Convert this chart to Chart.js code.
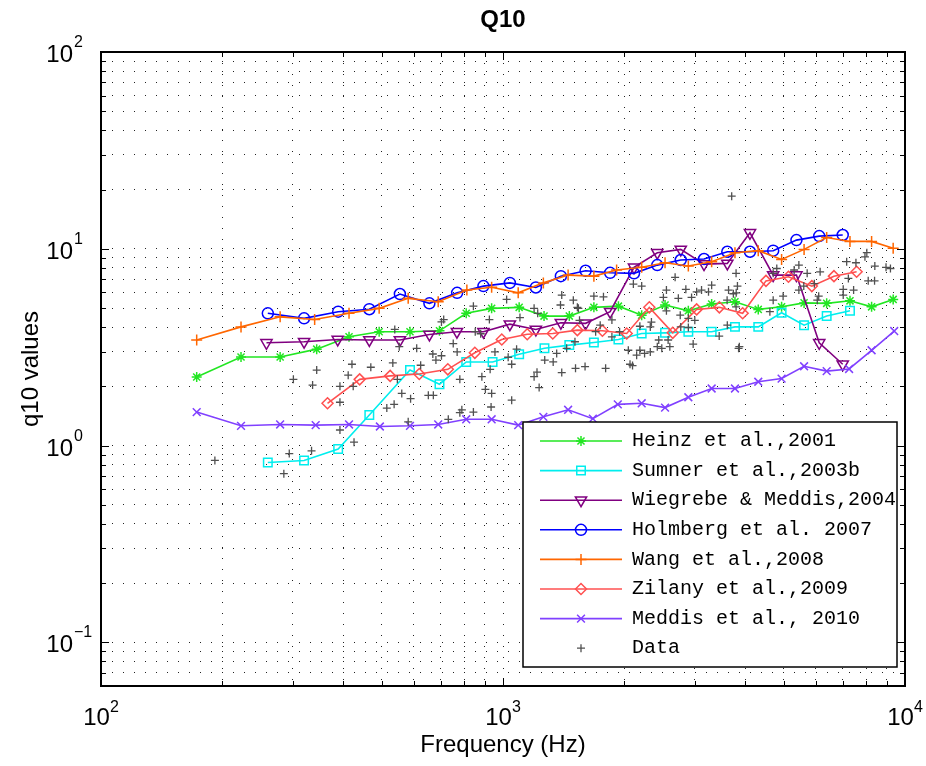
<!DOCTYPE html>
<html>
<head>
<meta charset="utf-8">
<title>Q10</title>
<script src="https://cdn.jsdelivr.net/npm/chart.js@4.4.1/dist/chart.umd.min.js"></script>
<style>
  html, body { margin: 0; padding: 0; background: #fff; }
  canvas { display: block; }
</style>
</head>
<body>
<canvas id="chart" width="926" height="766"></canvas>
<script>
// values (frequency in Hz, q10)
const heinzFreq = [173, 223, 279, 344, 414, 492, 587, 695, 810, 937, 1097, 1265, 1462, 1683, 1937, 2213, 2530, 2891, 3304, 3776, 4315, 4932, 5610, 6385, 7297, 8259, 9345];
const heinzQ10 = [2.23, 2.82, 2.82, 3.09, 3.57, 3.79, 3.79, 3.83, 4.70, 4.98, 5.04, 4.55, 4.55, 5.04, 5.11, 4.60, 5.18, 4.84, 5.24, 5.38, 4.92, 5.07, 5.31, 5.28, 5.44, 5.07, 5.53];

const sumnerFreq = [260, 320, 389, 465, 587, 695, 810, 942, 1097, 1268, 1462, 1683, 1937, 2213, 2530, 2891, 3304, 3776, 4315, 4932, 5610, 6385, 7297];
const sumnerQ10 = [0.82, 0.84, 0.96, 1.43, 2.42, 2.05, 2.66, 2.66, 2.91, 3.12, 3.24, 3.34, 3.46, 3.71, 3.74, 3.79, 3.79, 4.01, 4.01, 4.73, 4.09, 4.55, 4.84];

const wiegrebeFreq = [258, 320, 388, 465, 554, 656, 768, 894, 1040, 1207, 1393, 1605, 1847, 2118, 2420, 2768, 3163, 3614, 4115, 4700, 5370, 6118, 7000];
const wiegrebeQ10 = [3.33, 3.37, 3.46, 3.44, 3.44, 3.67, 3.79, 3.79, 4.14, 3.89, 4.21, 4.18, 4.79, 8.05, 9.55, 9.93, 8.36, 8.43, 12.05, 7.35, 7.35, 3.33, 2.59];

const holmbergFreq = [260, 320, 389, 465, 554, 656, 769, 894, 1040, 1207, 1393, 1605, 1847, 2118, 2420, 2768, 3163, 3614, 4115, 4700, 5370, 6118, 7000];
const holmbergQ10 = [4.70, 4.43, 4.79, 4.93, 5.89, 5.28, 5.97, 6.46, 6.71, 6.36, 7.26, 7.73, 7.55, 7.50, 8.26, 8.77, 8.87, 9.66, 9.66, 9.78, 11.07, 11.6, 11.75];

const wangFreq = [173, 223, 279, 340, 414, 492, 581, 690, 813, 937, 1091, 1260, 1452, 1683, 1917, 2213, 2530, 2891, 3304, 3776, 4315, 4932, 5610, 6385, 7297, 8259, 9345];
const wangQ10 = [3.44, 4.01, 4.51, 4.37, 4.70, 4.98, 5.60, 5.38, 6.17, 6.37, 5.97, 6.71, 7.35, 7.26, 7.80, 8.05, 8.49, 8.17, 8.60, 9.55, 9.78, 8.83, 9.93, 11.4, 10.9, 10.9, 10.05];

const zilanyFreq = [366, 440, 524, 619, 729, 851, 993, 1149, 1330, 1531, 1767, 2031, 2312, 2644, 3032, 3453, 3946, 4510, 5130, 5865, 6657, 7580];
const zilanyQ10 = [1.64, 2.17, 2.26, 2.31, 2.44, 2.96, 3.46, 3.68, 3.71, 3.86, 3.83, 3.71, 5.04, 3.74, 4.92, 5.04, 4.70, 6.87, 7.21, 6.46, 7.26, 7.64];

const meddisFreq = [173, 223, 279, 342, 414, 494, 587, 690, 810, 937, 1091, 1260, 1452, 1673, 1930, 2213, 2530, 2891, 3304, 3776, 4315, 4932, 5610, 6385, 7260, 8259, 9400];
const meddisQ10 = [1.48, 1.26, 1.28, 1.27, 1.28, 1.25, 1.26, 1.28, 1.36, 1.36, 1.27, 1.40, 1.52, 1.37, 1.62, 1.64, 1.56, 1.76, 1.95, 1.95, 2.11, 2.19, 2.53, 2.39, 2.45, 3.05, 3.82];

const dataFreq = [192, 285, 294, 334, 393, 426, 393, 514, 536, 581, 731, 781, 844, 934, 301, 336, 344, 393, 412, 421,
  424, 469, 532, 546, 560, 589, 624, 652, 671, 669, 681, 610, 552, 538, 703, 712, 752, 769, 781, 3706,
  2680, 2110, 2213, 2550, 2850, 3032, 3118, 3245, 3304, 2506, 2730, 2945, 3803, 3855, 3614, 2972, 2575, 2440, 2483, 2420,
  2325, 2250, 2070, 2100, 2325, 2340, 2190, 2760, 2550, 2768, 2891, 2891, 1866, 1778, 1683, 1496, 1400, 1540, 1550, 1745,
  1700, 1866, 2050, 2150, 1510, 1440, 1360, 1515, 1600, 1800, 1400, 1333, 1215, 1195, 1230, 1270, 1081, 1051, 1030, 955,
  929, 886, 703, 844, 925, 1021, 1102, 1195, 1220, 1390, 1531, 853, 880, 904, 937, 1051, 790, 1950, 2190, 2600,
  8036, 7950, 7160, 7550, 8413, 8970, 9200, 8100, 8400, 7230, 7020, 7450, 7020, 6150, 5710, 5950, 6100, 6050, 5445, 5300,
  5600, 5445, 4798, 4700, 4975, 4700, 4612, 3800, 3830, 3640, 3610, 3741, 3872, 3000, 3450, 3800];
const dataQ10 = [0.84, 0.72, 0.91, 0.94, 1.20, 1.04, 1.66, 1.55, 1.62, 1.32, 1.36, 1.47, 1.48, 1.57, 2.17, 2.03, 2.42, 2.00, 2.28, 2.59,
  2.00, 2.50, 2.63, 2.17, 1.84, 1.73, 2.56, 1.80, 1.80, 2.92, 2.72, 3.12, 3.18, 3.89, 4.25, 4.37, 3.30, 2.99, 2.17, 18.5,
  7.16, 6.62, 6.46, 6.17, 6.22, 6.04, 6.17, 6.04, 6.53, 5.66, 5.60, 5.66, 5.97, 3.12, 4.09, 3.28, 3.44, 3.44, 3.12, 3.18,
  2.99, 2.94, 2.59, 2.55, 4.01, 4.24, 4.04, 4.60, 4.84, 4.01, 4.43, 3.98, 4.35, 5.70, 5.74, 5.48, 5.82, 4.98, 4.33, 4.09,
  3.79, 3.57, 3.05, 2.88, 3.37, 3.12, 2.94, 2.47, 2.52, 2.47, 2.35, 2.66, 2.36, 2.24, 1.97, 2.72, 3.09, 2.59, 2.81, 2.99,
  2.44, 2.24, 2.86, 5.11, 4.37, 5.53, 4.47, 4.98, 4.70, 5.18, 5.04, 3.79, 3.70, 1.93, 1.84, 1.70, 1.52, 3.79, 3.05, 3.18,
  9.55, 9.10, 8.60, 8.49, 8.17, 8.05, 7.94, 6.87, 6.87, 7.07, 6.22, 6.17, 5.82, 7.64, 7.50, 6.65, 5.74, 5.48, 8.26, 7.80,
  6.46, 6.17, 7.94, 7.50, 5.74, 5.48, 4.79, 7.50, 6.46, 6.17, 5.48, 5.91, 3.18, 4.33, 3.60, 5.07];

const seriesNames = ['Heinz et al.,2001', 'Sumner et al.,2003b', 'Wiegrebe & Meddis,2004', 'Holmberg et al. 2007',
  'Wang et al.,2008', 'Zilany et al.,2009', 'Meddis et al., 2010'];
const seriesFreq = [heinzFreq, sumnerFreq, wiegrebeFreq, holmbergFreq, wangFreq, zilanyFreq, meddisFreq];
const seriesQ10 = [heinzQ10, sumnerQ10, wiegrebeQ10, holmbergQ10, wangQ10, zilanyQ10, meddisQ10];

// axis ticks
const xMajor = [100, 1000, 10000];
const xExp = ['2', '3', '4'];
const yMajor = [0.1, 1, 10, 100];
const yExp = ['\u22121', '0', '1', '2'];

const decadeTicks = (start, end) => {
  const out = [];
  for (let d = start; d < end; d *= 10) {
    for (let m = 1; m < 10; m++) out.push(+(m * d).toPrecision(3));
  }
  out.push(end);
  return out;
};
const xGridTicks = decadeTicks(100, 10000);
const yGridTicks = [0.06, 0.07, 0.08, 0.09].concat(decadeTicks(0.1, 100));

const looks = [
  {color: '#22e622', pointStyle: 'star', radius: 5},
  {color: '#00eeee', pointStyle: 'rect', radius: 6},
  {color: '#800080', pointStyle: 'triangle', radius: 6.5, rotation: 180},
  {color: '#0000ff', pointStyle: 'circle', radius: 5.5},
  {color: '#ff6600', pointStyle: 'cross', radius: 5.5},
  {color: '#ff5050', pointStyle: 'rectRot', radius: 5.5},
  {color: '#8040ff', pointStyle: 'crossRot', radius: 5.5}
];

const toPoints = (xs, ys) => xs.map((f, i) => ({x: f, y: ys[i]}));

const datasets = seriesNames.map((name, i) => ({
  label: name,
  data: toPoints(seriesFreq[i], seriesQ10[i]),
  borderColor: looks[i].color,
  borderWidth: 1.6,
  pointStyle: looks[i].pointStyle,
  pointRadius: looks[i].radius,
  pointRotation: looks[i].rotation || 0,
  pointBorderColor: looks[i].color,
  pointBackgroundColor: 'rgba(0,0,0,0)',
  pointBorderWidth: 1.5,
  showLine: true,
  tension: 0,
  order: 10 - i
}));

datasets.push({
  label: 'Data',
  data: toPoints(dataFreq, dataQ10),
  showLine: false,
  borderColor: '#505050',
  pointStyle: 'cross',
  pointRadius: 4,
  pointBorderColor: '#505050',
  pointBackgroundColor: 'rgba(0,0,0,0)',
  pointBorderWidth: 1.3,
  order: 1
});

const baseFont = '24px "Liberation Sans", Arial, sans-serif';
const supFont = '16px "Liberation Sans", Arial, sans-serif';

const matlabAxes = {
  id: 'matlabAxes',
  afterDraw(chart) {
    const {ctx, chartArea: a, scales} = chart;
    const xs = scales.x, ys = scales.y;
    ctx.save();

    // inner tick marks on all four sides
    ctx.strokeStyle = '#000';
    ctx.lineWidth = 1;
    ctx.beginPath();
    xGridTicks.forEach(v => {
      const p = Math.round(xs.getPixelForValue(v)) + 0.5;
      const len = xMajor.includes(v) ? 8 : 5;
      ctx.moveTo(p, a.bottom); ctx.lineTo(p, a.bottom - len);
      ctx.moveTo(p, a.top); ctx.lineTo(p, a.top + len);
    });
    yGridTicks.forEach(v => {
      const p = Math.round(ys.getPixelForValue(v)) + 0.5;
      const len = yMajor.includes(v) ? 8 : 5;
      ctx.moveTo(a.left, p); ctx.lineTo(a.left + len, p);
      ctx.moveTo(a.right, p); ctx.lineTo(a.right - len, p);
    });
    ctx.stroke();
    ctx.lineWidth = 2;
    ctx.strokeRect(a.left, a.top, a.right - a.left, a.bottom - a.top);

    // tick labels 10^n
    ctx.fillStyle = '#000';
    ctx.textBaseline = 'alphabetic';
    xMajor.forEach((v, i) => {
      const p = xs.getPixelForValue(v);
      ctx.font = baseFont;
      const w1 = ctx.measureText('10').width;
      ctx.font = supFont;
      const w2 = ctx.measureText(xExp[i]).width;
      const left = p - (w1 + w2) / 2;
      ctx.textAlign = 'left';
      ctx.font = baseFont;
      ctx.fillText('10', left, a.bottom + 39);
      ctx.font = supFont;
      ctx.fillText(xExp[i], left + w1, a.bottom + 26);
    });
    yMajor.forEach((v, i) => {
      const p = ys.getPixelForValue(v);
      ctx.font = baseFont;
      ctx.textAlign = 'right';
      ctx.fillText('10', a.left - 28, p + 10);
      ctx.font = supFont;
      ctx.textAlign = 'left';
      ctx.fillText(yExp[i], a.left - 27, p - 5);
    });

    // titles
    const cx = (a.left + a.right) / 2;
    ctx.textAlign = 'center';
    ctx.font = 'bold 24px "Liberation Sans", Arial, sans-serif';
    ctx.fillText('Q10', cx, 27);
    ctx.font = baseFont;
    ctx.textBaseline = 'middle';
    ctx.fillText('Frequency (Hz)', cx, 745);
    ctx.save();
    ctx.translate(31, (a.top + a.bottom) / 2);
    ctx.rotate(-Math.PI / 2);
    ctx.fillText('q10 values', 0, 0);
    ctx.restore();

    // legend box
    const L = {left: 523, top: 422, right: 897, bottom: 667};
    ctx.fillStyle = '#fff';
    ctx.fillRect(L.left, L.top, L.right - L.left, L.bottom - L.top);
    ctx.lineWidth = 1.5;
    ctx.strokeStyle = '#000';
    ctx.strokeRect(L.left, L.top, L.right - L.left, L.bottom - L.top);
    ctx.beginPath();
    ctx.rect(L.left, L.top, L.right - L.left, L.bottom - L.top);
    ctx.clip();
    chart.data.datasets.forEach((ds, i) => {
      const y = 441 + i * 29.6;
      if (ds.showLine !== false) {
        ctx.strokeStyle = ds.borderColor;
        ctx.lineWidth = 1.6;
        ctx.beginPath();
        ctx.moveTo(540, y);
        ctx.lineTo(622, y);
        ctx.stroke();
      }
      ctx.strokeStyle = ds.pointBorderColor;
      ctx.fillStyle = 'rgba(0,0,0,0)';
      ctx.lineWidth = ds.pointBorderWidth;
      Chart.helpers.drawPoint(ctx, {
        pointStyle: ds.pointStyle,
        radius: ds.pointRadius,
        rotation: ds.pointRotation || 0,
        borderWidth: ds.pointBorderWidth
      }, 581, y);
      ctx.fillStyle = '#000';
      ctx.font = '20px "Liberation Mono", "Courier New", monospace';
      ctx.textAlign = 'left';
      ctx.textBaseline = 'middle';
      ctx.fillText(ds.label, 632, y);
    });
    ctx.restore();
  }
};

new Chart(document.getElementById('chart'), {
  type: 'line',
  data: {datasets},
  options: {
    responsive: false,
    animation: false,
    devicePixelRatio: 1,
    events: [],
    layout: {padding: {left: 101, top: 52, right: 21, bottom: 80}},
    plugins: {
      legend: {display: false},
      title: {display: false},
      tooltip: {enabled: false}
    },
    scales: {
      x: {
        type: 'logarithmic',
        min: 100,
        max: 10000,
        afterBuildTicks: s => { s.ticks = xGridTicks.map(v => ({value: v})); },
        ticks: {display: false, autoSkip: false},
        grid: {color: '#222', lineWidth: 1, drawTicks: false},
        border: {display: false, dash: [1, 10]}
      },
      y: {
        type: 'logarithmic',
        min: 0.06,
        max: 100,
        afterBuildTicks: s => { s.ticks = yGridTicks.map(v => ({value: v})); },
        ticks: {display: false, autoSkip: false},
        grid: {color: '#222', lineWidth: 1, drawTicks: false},
        border: {display: false, dash: [1, 10]}
      }
    }
  },
  plugins: [matlabAxes]
});
</script>
</body>
</html>
